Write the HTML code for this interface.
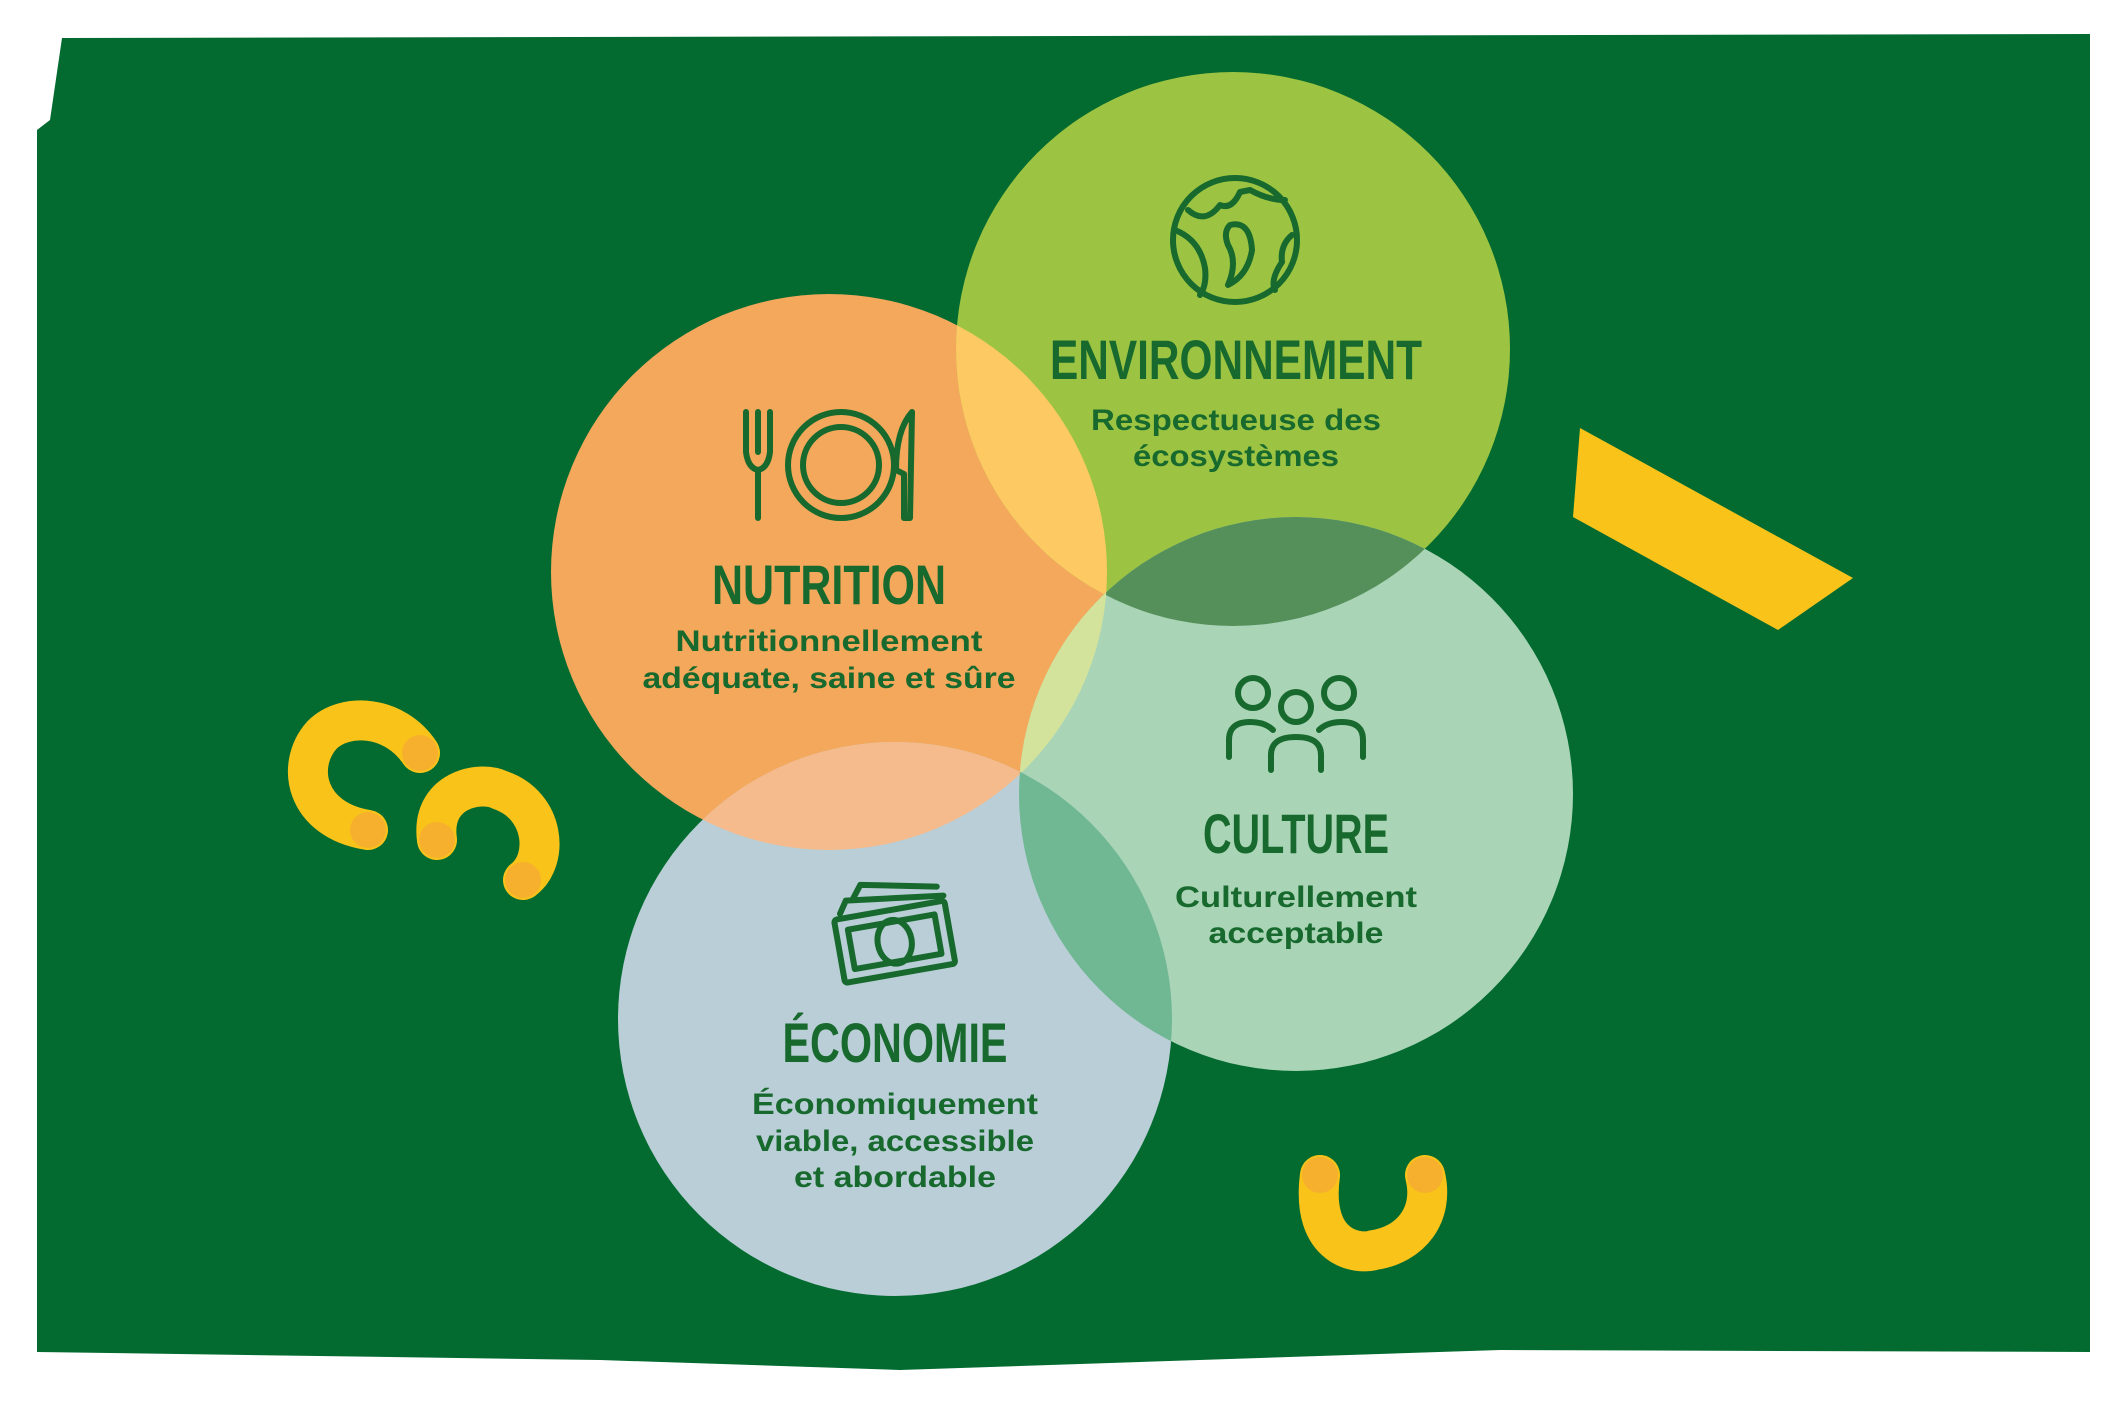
<!DOCTYPE html>
<html><head><meta charset="utf-8"><style>
html,body{margin:0;padding:0;background:#fff;}
svg{display:block;}
.t{font-family:"Liberation Sans",sans-serif;font-weight:bold;fill:#17692d;text-anchor:middle;}
.s{font-family:"Liberation Sans",sans-serif;font-weight:bold;fill:#17692d;text-anchor:middle;font-size:30px;}
.ic{fill:none;stroke:#17692d;stroke-width:6;stroke-linecap:round;stroke-linejoin:round;}
</style></head><body>
<svg width="2124" height="1416" viewBox="0 0 2124 1416" xmlns="http://www.w3.org/2000/svg">
<defs>
<clipPath id="cN"><circle cx="829" cy="572" r="278"/></clipPath>
<clipPath id="cE"><circle cx="1233" cy="349" r="277"/></clipPath>
<clipPath id="cC"><circle cx="1296" cy="794" r="277"/></clipPath>
<clipPath id="cX"><circle cx="895" cy="1019" r="277"/></clipPath>
</defs>
<rect x="0" y="0" width="2124" height="1416" fill="#fff"/>
<polygon points="62,38 2090,34 2090,1352 1500,1350 900,1370 600,1360 37,1352 37,130 50,120" fill="#036b30"/>
<circle cx="829" cy="572" r="278" fill="#f3a85c"/>
<circle cx="1233" cy="349" r="277" fill="#9cc442"/>
<circle cx="1296" cy="794" r="277" fill="#a9d4b6"/>
<circle cx="895" cy="1019" r="277" fill="#b9ced6"/>
<g clip-path="url(#cN)"><circle cx="1233" cy="349" r="277" fill="#fcc962"/></g>
<g clip-path="url(#cE)"><circle cx="1296" cy="794" r="277" fill="#55905a"/></g>
<g clip-path="url(#cN)"><circle cx="1296" cy="794" r="277" fill="#d3e39c"/></g>
<g clip-path="url(#cN)"><circle cx="895" cy="1019" r="277" fill="#f5bb8c"/></g>
<g clip-path="url(#cC)"><circle cx="895" cy="1019" r="277" fill="#6fb893"/></g>
<polygon points="1580,428 1853,578 1778,630 1573,517" fill="#f9c31a"/>
<g fill="none" stroke="#f9c31a" stroke-width="40" stroke-linecap="round">
<path d="M420,753 C395,715 345,712 322,735 C295,765 305,820 368,830"/>
<path d="M437,840 C430,790 480,780 500,790 C545,805 550,860 523,880"/>
<path d="M1320,1175 C1310,1250 1360,1255 1374,1250 C1410,1245 1435,1215 1425,1175"/>
</g>
<g fill="#f6b02e"><circle cx="420" cy="753" r="18"/><circle cx="368" cy="830" r="18"/><circle cx="437" cy="840" r="18"/><circle cx="523" cy="880" r="18"/><circle cx="1320" cy="1175" r="18"/><circle cx="1425" cy="1175" r="18"/></g>
<g class="ic">
<path d="M746,412 V452 Q748,468 758,470 Q768,468 770,452 V412 M758,412 V452 M758,470 V518"/>
<circle cx="841" cy="465" r="53"/><circle cx="841" cy="465" r="38"/>
<path d="M912,412 Q896,430 896,470 L904,474 V518 L910,518 Z"/>
<circle cx="1235" cy="240" r="62"/>
<path d="M1188,210 Q1205,225 1220,205 Q1232,210 1240,192 L1250,190 Q1268,200 1285,200"/>
<path d="M1175,230 Q1200,240 1205,268 Q1207,285 1200,295"/>
<path d="M1230,225 Q1250,220 1252,250 Q1248,275 1228,285 Q1238,262 1228,245 Q1223,232 1230,225"/>
<path d="M1292,235 Q1280,245 1282,262 Q1270,280 1275,290"/>
<circle cx="1253" cy="693" r="15"/><circle cx="1296" cy="707" r="15"/><circle cx="1339" cy="693" r="15"/>
<path d="M1229,757 V740 Q1229,722 1250,722 Q1265,722 1273,730"/>
<path d="M1363,757 V740 Q1363,722 1342,722 Q1327,722 1319,730"/>
<path d="M1271,770 V755 Q1271,737 1296,737 Q1321,737 1321,755 V770"/>
<g transform="rotate(-10 893 938)">
<rect x="838" y="910" width="112" height="64" rx="3"/>
<ellipse cx="894" cy="942" rx="17" ry="22"/>
<rect x="850" y="922" width="88" height="40"/>
<path d="M845,905 L853,893 L950,905 M860,893 L870,880 L945,895"/>
</g>
</g>
<text class="t" x="829" y="604" font-size="56" textLength="234" lengthAdjust="spacingAndGlyphs">NUTRITION</text>
<text class="s" x="829" y="651" textLength="307" lengthAdjust="spacingAndGlyphs">Nutritionnellement</text>
<text class="s" x="829" y="688" textLength="373" lengthAdjust="spacingAndGlyphs">adéquate, saine et sûre</text>
<text class="t" x="1236" y="379" font-size="56" textLength="372" lengthAdjust="spacingAndGlyphs">ENVIRONNEMENT</text>
<text class="s" x="1236" y="430" textLength="290" lengthAdjust="spacingAndGlyphs">Respectueuse des</text>
<text class="s" x="1236" y="466" textLength="206" lengthAdjust="spacingAndGlyphs">écosystèmes</text>
<text class="t" x="1296" y="853" font-size="56" textLength="186" lengthAdjust="spacingAndGlyphs">CULTURE</text>
<text class="s" x="1296" y="907" textLength="242" lengthAdjust="spacingAndGlyphs">Culturellement</text>
<text class="s" x="1296" y="943" textLength="175" lengthAdjust="spacingAndGlyphs">acceptable</text>
<text class="t" x="895" y="1062" font-size="56" textLength="225" lengthAdjust="spacingAndGlyphs">ÉCONOMIE</text>
<text class="s" x="895" y="1114" textLength="286" lengthAdjust="spacingAndGlyphs">Économiquement</text>
<text class="s" x="895" y="1151" textLength="278" lengthAdjust="spacingAndGlyphs">viable, accessible</text>
<text class="s" x="895" y="1187" textLength="202" lengthAdjust="spacingAndGlyphs">et abordable</text>
</svg>
</body></html>
